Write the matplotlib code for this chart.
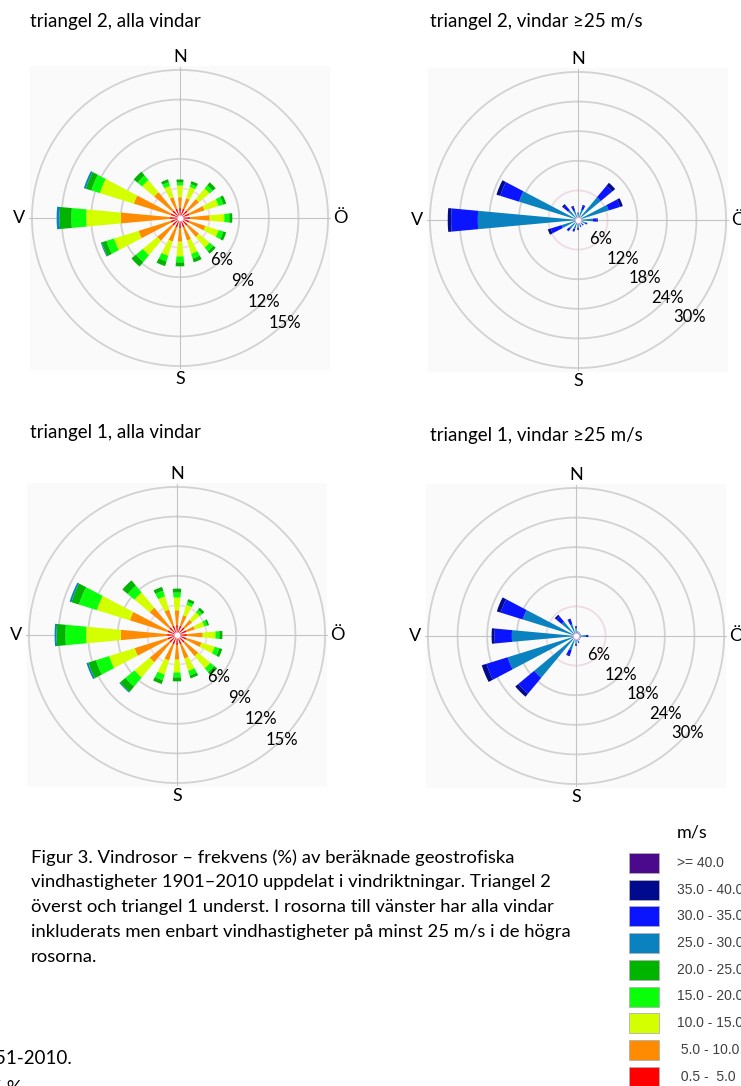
import numpy as np
import matplotlib
matplotlib.use('Agg')
import matplotlib.pyplot as plt
from matplotlib.patches import Rectangle

plt.rcParams['font.family'] = ['Lato', 'DejaVu Sans']

W_PX, H_PX = 741, 1086

# wind directions, clockwise from north
dirs = ['N', 'NNO', 'NO', 'ONO', 'O', 'OSO', 'SO', 'SSO',
        'S', 'SSV', 'SV', 'VSV', 'V', 'VNV', 'NV', 'NNV']

# speed classes (m/s) and colours used in the legend
speed_labels = ['>= 40.0', '35.0 - 40.0', '30.0 - 35.0', '25.0 - 30.0',
                '20.0 - 25.0', '15.0 - 20.0', '10.0 - 15.0', ' 5.0 - 10.0',
                ' 0.5 -  5.0']
speed_colors = ['#4b0a8c', '#000a8c', '#0a14ff', '#0a82c0',
                '#00b400', '#0aff0a', '#d4ff00', '#ff8c00', '#ff0000']

# all winds: classes 0.5-5, 5-10, 10-15, 15-20, 20-25, 25-30 (percent per direction)
alla_colors = ['#ff0000', '#ff8c00', '#d4ff00', '#0aff0a', '#00b400', '#0a82c0']
t2_alla = [
    [1.0, 1.0, 1.0, 1.0, 1.0, 1.0, 1.0, 1.0, 1.0, 1.0, 1.0, 1.0, 1.0, 1.0, 1.0, 1.0],
    [1.1, 1.1, 1.5, 1.6, 2.0, 1.7, 1.5, 1.4, 1.4, 1.5, 2.0, 3.4, 5.0, 3.9, 2.4, 1.2],
    [1.2, 1.2, 1.4, 1.5, 1.5, 1.4, 1.4, 1.4, 1.5, 1.5, 1.9, 2.6, 3.5, 3.6, 1.6, 1.2],
    [0.3, 0.3, 0.4, 0.5, 0.5, 0.5, 0.5, 0.5, 0.6, 0.6, 0.9, 0.8, 1.5, 0.9, 0.6, 0.4],
    [0.3, 0.3, 0.4, 0.3, 0.3, 0.3, 0.3, 0.4, 0.4, 0.5, 0.6, 0.5, 1.2, 0.6, 0.5, 0.3],
    [0.0, 0.0, 0.0, 0.0, 0.0, 0.0, 0.0, 0.0, 0.0, 0.0, 0.0, 0.1, 0.3, 0.2, 0.0, 0.0],
]
t1_alla = [
    [1.0, 1.0, 1.0, 1.0, 1.0, 1.0, 1.0, 1.0, 1.0, 1.0, 1.0, 1.0, 1.0, 1.0, 1.0, 1.0],
    [1.5, 1.1, 1.0, 0.9, 1.6, 1.6, 1.8, 1.5, 1.5, 1.7, 2.6, 3.5, 4.7, 4.0, 2.6, 1.7],
    [1.3, 1.1, 1.0, 1.0, 1.3, 1.4, 1.6, 1.3, 1.3, 1.5, 2.0, 2.7, 3.5, 3.5, 2.0, 1.4],
    [0.5, 0.3, 0.3, 0.3, 0.4, 0.5, 0.5, 0.5, 0.5, 0.6, 1.2, 1.4, 2.1, 1.9, 0.9, 0.6],
    [0.4, 0.3, 0.3, 0.2, 0.3, 0.3, 0.4, 0.3, 0.4, 0.4, 0.7, 0.8, 0.9, 0.8, 0.7, 0.4],
    [0.0, 0.0, 0.0, 0.0, 0.0, 0.0, 0.0, 0.0, 0.0, 0.0, 0.1, 0.2, 0.2, 0.2, 0.0, 0.0],
]

# winds >= 25 m/s: classes 25-30, 30-35, 35-40, >=40
storm_colors = ['#0a82c0', '#0a14ff', '#000a8c', '#4b0a8c']
t2_storm = [
    [1.2, 2.2, 6.0, 6.5, 3.0, 1.6, 1.2, 1.2, 1.6, 1.9, 2.3, 3.5, 20.3, 12.5, 2.6, 2.0],
    [0.3, 0.8, 3.0, 2.4, 0.8, 0.4, 0.3, 0.3, 0.4, 0.5, 0.6, 2.3, 5.4, 4.0, 1.2, 0.7],
    [0.0, 0.2, 0.8, 0.6, 0.2, 0.0, 0.0, 0.0, 0.0, 0.1, 0.1, 0.6, 0.7, 0.8, 0.4, 0.3],
    [0.0, 0.0, 0.0, 0.0, 0.0, 0.0, 0.0, 0.0, 0.0, 0.0, 0.0, 0.0, 0.0, 0.0, 0.0, 0.0],
]
t1_storm = [
    [1.6, 0.8, 0.8, 0.8, 2.0, 0.8, 0.8, 1.2, 1.6, 3.0, 11.0, 14.5, 13.0, 11.3, 3.8, 2.5],
    [0.4, 0.2, 0.2, 0.2, 0.5, 0.2, 0.2, 0.3, 0.4, 1.1, 4.2, 4.5, 3.5, 4.7, 1.4, 1.0],
    [0.0, 0.0, 0.0, 0.0, 0.0, 0.0, 0.0, 0.0, 0.0, 0.2, 0.8, 1.0, 0.6, 0.8, 0.4, 0.2],
    [0.0, 0.0, 0.0, 0.0, 0.0, 0.0, 0.0, 0.0, 0.0, 0.0, 0.0, 0.0, 0.0, 0.0, 0.0, 0.0],
]

alla_rings = [3, 6, 9, 12, 15]
storm_rings = [6, 12, 18, 24, 30]

titles = ['triangel 2, alla vindar', 'triangel 2, vindar \u226525 m/s',
          'triangel 1, alla vindar', 'triangel 1, vindar \u226525 m/s']

caption = ('Figur 3. Vindrosor \u2013 frekvens (%) av beräknade geostrofiska\n'
           'vindhastigheter 1901\u20132010 uppdelat i vindriktningar. Triangel 2\n'
           'överst och triangel 1 underst. I rosorna till vänster har alla vindar\n'
           'inkluderats men enbart vindhastigheter på minst 25 m/s i de högra\n'
           'rosorna.')

fig = plt.figure(figsize=(W_PX / 100, H_PX / 100), dpi=100)


def px(x, y):
    return x / W_PX, 1 - y / H_PX


def rose(cx, cy, data, colors, rings, lab_ang):
    R = 151
    rmax = rings[-1] * 1.02
    # faint panel behind the rose
    fig.patches.append(Rectangle(px(cx - 150, cy + 152), 300 / W_PX, 304 / H_PX,
                                 transform=fig.transFigure, facecolor='#fafafa',
                                 edgecolor='none', zorder=-5))
    ax = fig.add_axes([(cx - R) / W_PX, 1 - (cy + R) / H_PX, 2 * R / W_PX, 2 * R / H_PX],
                      projection='polar')
    ax.set_zorder(2)
    ax.set_facecolor('none')
    ax.set_theta_zero_location('N')
    ax.set_theta_direction(-1)
    ax.set_ylim(0, rmax)
    ax.spines['polar'].set_visible(False)
    ax.set_xticks(np.radians([0, 90, 180, 270]))
    ax.set_xticklabels([])
    ax.set_yticks([])
    ax.xaxis.grid(True, color='#c4c4c4', lw=0.8)
    ax.yaxis.grid(False)
    th = np.linspace(0, 2 * np.pi, 361)
    for i, r in enumerate(rings):
        ax.plot(th, np.full_like(th, r), color='#eedbe6' if i == 0 else '#d2d2d2',
                lw=1.3, zorder=1)
    theta = np.radians(np.arange(len(dirs)) * 22.5)
    bottom = np.zeros(len(dirs))
    for vals, col in zip(data, colors):
        ax.bar(theta, vals, width=np.radians(10.5), bottom=bottom, color=col,
               edgecolor='none', zorder=3)
        bottom = bottom + np.array(vals)
    ax.plot([0], [0], 'o', ms=4.5, color='white', mec='#f0a0c0', mew=0.6, zorder=4)
    for r in rings:
        if r >= 6:
            ax.text(np.radians(lab_ang), r, f'{r}%', ha='center', va='center',
                    fontsize=12, zorder=5)
    rl = rings[-1] * 1.085
    for ang, s in zip([0, 90, 180, 270], ['N', 'Ö', 'S', 'V']):
        ax.text(np.radians(ang), rl, s, ha='center', va='center', fontsize=13,
                clip_on=False)
    return ax


rose(180, 218, t2_alla, alla_colors, alla_rings, 135)
rose(578, 220, t2_storm, storm_colors, storm_rings, 131)
rose(177, 635, t1_alla, alla_colors, alla_rings, 135)
rose(576, 636, t1_storm, storm_colors, storm_rings, 131)

for (x, y), t in zip([(30, 22), (430, 22), (30, 433), (430, 435)], titles):
    fig.text(*px(x, y), t, ha='left', va='center', fontsize=13.5)

fig.text(*px(31, 849), caption, ha='left', va='top', fontsize=13.3,
         linespacing=1.68)

# legend
fig.text(*px(677, 833), 'm/s', ha='left', va='center', fontsize=13)
for i, (lab, col) in enumerate(zip(speed_labels, speed_colors)):
    yc = 863 + i * 26.7
    fig.patches.append(Rectangle(px(629, yc + 10), 30 / W_PX, 20 / H_PX,
                                 transform=fig.transFigure, facecolor=col,
                                 edgecolor='#b0b0b0', lw=0.6))
    fig.text(*px(677, yc), lab, ha='left', va='center', fontsize=10,
             family='Liberation Sans', color='#404040')

# fragments of the page text below
fig.text(*px(72, 1058), '1951-2010.', ha='right', va='center', fontsize=13.5)
fig.text(*px(22, 1088), '5 %', ha='right', va='center', fontsize=13.5)

fig.savefig('out.png', dpi=100)
